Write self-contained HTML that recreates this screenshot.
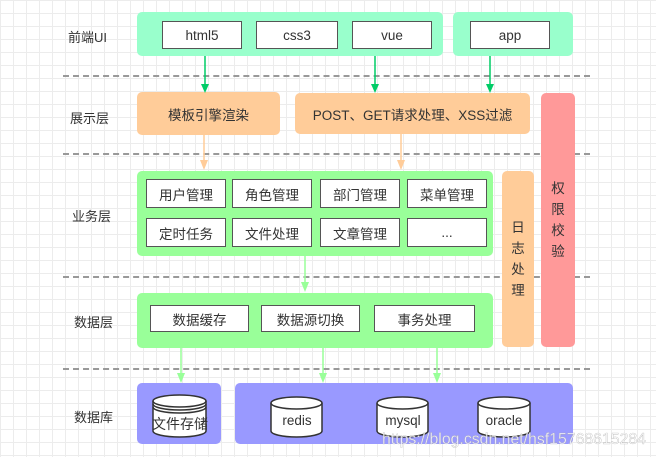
<!DOCTYPE html>
<html><head><meta charset="utf-8"><style>
body{margin:0;width:656px;height:457px;overflow:hidden;background:#fff;
background-image:linear-gradient(#ececec 1px,transparent 1px),linear-gradient(90deg,#ececec 1px,transparent 1px);background-size:13px 13px;
font-family:"Liberation Sans","Noto Sans CJK SC",sans-serif;font-size:13.5px;color:#333;position:relative}
.a{position:absolute;box-sizing:border-box}
.g{border-radius:5px}
.b{background:#fff;border:1.5px solid #555;display:flex;align-items:center;justify-content:center}
.t{display:flex;align-items:center;justify-content:center}
.l{position:absolute;font-size:13px}
.d{position:absolute;left:63px;width:527px;border-top:2px dashed #999}
</style></head><body>
<div class="l" style="left:68px;top:27px">前端UI</div>
<div class="l" style="left:70px;top:108px">展示层</div>
<div class="l" style="left:72px;top:206px">业务层</div>
<div class="l" style="left:74px;top:312px">数据层</div>
<div class="l" style="left:74px;top:407px">数据库</div>
<div class="d" style="top:75px"></div>
<div class="d" style="top:153px"></div>
<div class="d" style="top:276px"></div>
<div class="d" style="top:368px"></div>

<div class="a g" style="left:137px;top:12px;width:306px;height:44px;background:#99ffcc"></div>
<div class="a g" style="left:453px;top:12px;width:120px;height:44px;background:#99ffcc"></div>
<div class="a b" style="left:162px;top:21px;width:80px;height:28px">html5</div>
<div class="a b" style="left:256px;top:21px;width:82px;height:28px">css3</div>
<div class="a b" style="left:352px;top:21px;width:80px;height:28px">vue</div>
<div class="a b" style="left:470px;top:21px;width:80px;height:28px">app</div>

<div class="a g t" style="left:137px;top:92px;width:143px;height:43px;background:#ffcc99">模板引擎渲染</div>
<div class="a g t" style="left:295px;top:93px;width:235px;height:41px;background:#ffcc99">POST、GET请求处理、XSS过滤</div>
<div class="a g t" style="left:541px;top:93px;width:34px;height:254px;background:#ff9999;line-height:21px;text-align:center">权<br>限<br>校<br>验</div>
<div class="a g t" style="left:502px;top:171px;width:32px;height:176px;background:#ffcc99;line-height:21px;text-align:center">日<br>志<br>处<br>理</div>

<div class="a g" style="left:137px;top:171px;width:356px;height:85px;background:#99ff99"></div>
<div class="a b" style="left:146px;top:179px;width:80px;height:29px">用户管理</div>
<div class="a b" style="left:232px;top:179px;width:80px;height:29px">角色管理</div>
<div class="a b" style="left:320px;top:179px;width:80px;height:29px">部门管理</div>
<div class="a b" style="left:407px;top:179px;width:80px;height:29px">菜单管理</div>
<div class="a b" style="left:146px;top:218px;width:80px;height:29px">定时任务</div>
<div class="a b" style="left:232px;top:218px;width:80px;height:29px">文件处理</div>
<div class="a b" style="left:320px;top:218px;width:80px;height:29px">文章管理</div>
<div class="a b" style="left:407px;top:218px;width:80px;height:29px">...</div>

<div class="a g" style="left:137px;top:293px;width:356px;height:55px;background:#99ff99"></div>
<div class="a b" style="left:150px;top:305px;width:99px;height:27px">数据缓存</div>
<div class="a b" style="left:261px;top:305px;width:99px;height:27px">数据源切换</div>
<div class="a b" style="left:374px;top:305px;width:101px;height:27px">事务处理</div>

<div class="a g" style="left:137px;top:383px;width:84px;height:61px;background:#9999ff"></div>
<div class="a g" style="left:235px;top:383px;width:338px;height:61px;background:#9999ff"></div>

<svg class="a" style="left:0;top:0" width="656" height="457">
<g stroke-width="1.5" fill="none">
<path d="M205,56V84" stroke="#00cc66"/><path d="M201,84h8l-4,9z" fill="#00cc66" stroke="none"/>
<path d="M375,56V84" stroke="#00cc66"/><path d="M371,84h8l-4,9z" fill="#00cc66" stroke="none"/>
<path d="M490,56V84" stroke="#00cc66"/><path d="M486,84h8l-4,9z" fill="#00cc66" stroke="none"/>
<path d="M204,135V161" stroke="#ffcc99"/><path d="M200,160h8l-4,10z" fill="#ffcc99" stroke="none"/>
<path d="M401,134V161" stroke="#ffcc99"/><path d="M397,160h8l-4,10z" fill="#ffcc99" stroke="none"/>
<path d="M305,256V283" stroke="#99ff99"/><path d="M301,282h8l-4,10z" fill="#99ff99" stroke="none"/>
<path d="M181,348V374" stroke="#99ff99"/><path d="M177,373h8l-4,10z" fill="#99ff99" stroke="none"/>
<path d="M323,348V374" stroke="#99ff99"/><path d="M319,373h8l-4,10z" fill="#99ff99" stroke="none"/>
<path d="M437,348V374" stroke="#99ff99"/><path d="M433,373h8l-4,10z" fill="#99ff99" stroke="none"/>
</g>
<g stroke="#333" stroke-width="1.5" fill="#fff">
<path d="M153,401V431a26.5,6 0 0 0 53,0V401"/><ellipse cx="179.5" cy="401" rx="26.5" ry="6"/>
<path d="M153,404a26.5,6 0 0 0 53,0M153,407a26.5,6 0 0 0 53,0" fill="none"/>
<path d="M271,403V431a25.5,6 0 0 0 51,0V403"/><ellipse cx="296.5" cy="403" rx="25.5" ry="6"/>
<path d="M377,403V431a25.5,6 0 0 0 51,0V403"/><ellipse cx="402.5" cy="403" rx="25.5" ry="6"/>
<path d="M478,403V431a26,6 0 0 0 52,0V403"/><ellipse cx="504" cy="403" rx="26" ry="6"/>
</g>
<g font-family="Liberation Sans,Noto Sans CJK SC,sans-serif" font-size="13.5" fill="#333" text-anchor="middle">
<text x="180" y="429" font-size="14">文件存储</text>
<text x="297" y="425">redis</text>
<text x="403" y="425">mysql</text>
<text x="504" y="425">oracle</text>
</g>
<text x="382" y="444" textLength="264" lengthAdjust="spacingAndGlyphs" font-family="Liberation Sans,sans-serif" font-size="15.5" fill="#fff" fill-opacity="0.8" stroke="#aaa" stroke-width="0.3">https://blog.csdn.net/hsf15768615284</text>
</svg>
</body></html>
